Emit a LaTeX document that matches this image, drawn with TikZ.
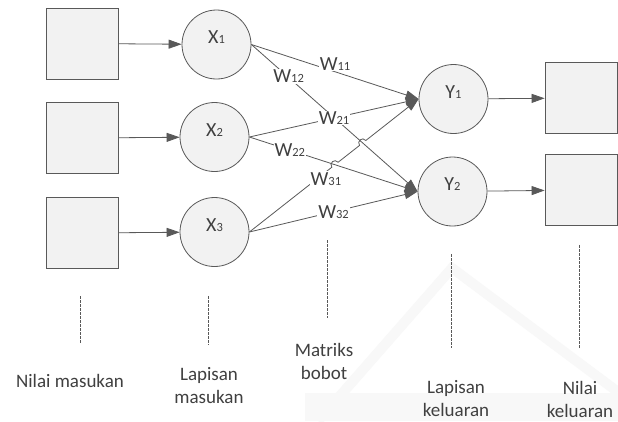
\documentclass[tikz,border=0pt]{standalone}
\usepackage{fontspec}
\setmainfont{Carlito}
\usetikzlibrary{arrows.meta,calc,intersections}
\definecolor{ln}{HTML}{595959}
\definecolor{fl}{HTML}{F2F2F2}
\definecolor{tx}{HTML}{404040}
\definecolor{wmc}{HTML}{F8F8F8}
\newcommand{\sbs}[1]{{\fontsize{12.5}{12.5}\selectfont #1}}
\begin{document}
\begin{tikzpicture}[x=1pt,y=-1pt,
  box/.style={draw=ln,fill=fl,line width=0.8pt,minimum width=72pt,minimum height=71pt,inner sep=0pt},
  neuron/.style={circle,draw=ln,fill=fl,line width=0.8pt,minimum size=69pt,inner sep=0pt},
  conn/.style={draw=ln,line width=0.8pt,-{Triangle[length=13pt,width=9pt]}},
  wl/.style={fill=white,inner sep=1pt,text=tx,font=\fontsize{20}{20}\selectfont},
  nl/.style={text=tx,font=\fontsize{20}{20}\selectfont,yshift=7pt},
  captxt/.style={text=tx,align=center,font=\fontsize{19}{23}\selectfont},
  dl/.style={draw=ln,line width=0.6pt,dash pattern=on 2.5pt off 1.5pt}]
\fill[white] (0,0) rectangle (618,421);
\useasboundingbox (0,0) rectangle (618,421);

% faint watermark in the background
\fill[wmc] (305,393) rectangle (618,421);
\draw[wmc,line width=10pt,line join=miter] (318,421) -- (452,268) -- (618,392);

% input values
\node[box] (i1) at (82,43.5) {};
\node[box] (i2) at (82,138) {};
\node[box] (i3) at (82,233) {};
% input layer
\node[neuron,label={[nl]center:X\sbs{1}}] (x1) at (216.5,44.5) {};
\node[neuron,label={[nl]center:X\sbs{2}}] (x2) at (214.5,137) {};
\node[neuron,label={[nl]center:X\sbs{3}}] (x3) at (214.5,232) {};
% output layer
\node[neuron,label={[nl]center:Y\sbs{1}}] (y1) at (453.5,99) {};
\node[neuron,label={[nl]center:Y\sbs{2}}] (y2) at (452.5,191.5) {};
% output values
\node[box] (o1) at (581,98) {};
\node[box] (o2) at (581,190) {};

\draw[conn] (i1) -- (x1);
\draw[conn] (i2) -- (x2);
\draw[conn] (i3) -- (x3);
\draw[conn] (y1) -- (o1);
\draw[conn] (y2) -- (o2);

% weights
\draw[conn] (x1.east) -- (y1.west);
\draw[conn,name path=p12] (x1.east) -- (y2.west);
\draw[conn] (x2.east) -- (y1.west);
\draw[conn,name path=p22] (x2.east) -- (y2.west);
\draw[conn] (x3.east) -- (y2.west);
\path[name path=p31] (x3.east) -- (y1.west);
\path[name intersections={of=p31 and p22, by=ha}];
\path[name intersections={of=p31 and p12, by=hb}];
\coordinate (ha1) at ($(ha)!4pt!(x3.east)$);
\coordinate (ha2) at ($(ha)!4pt!(y1.west)$);
\coordinate (hb1) at ($(hb)!4pt!(x3.east)$);
\coordinate (hb2) at ($(hb)!4pt!(y1.west)$);
\draw[conn] (x3.east) -- (ha1)
  .. controls ($(ha1)!5.3pt!90:(ha)$) and ($(ha2)!5.3pt!-90:(ha)$) .. (ha2)
  -- (hb1)
  .. controls ($(hb1)!5.3pt!90:(hb)$) and ($(hb2)!5.3pt!-90:(hb)$) .. (hb2)
  -- (y1.west);

% weight labels
\path (x1.east) -- node[wl,pos=0.5,yshift=8pt] (w11) {W\sbs{11}} (y1.west);
\path (x1.east) -- node[wl,pos=0.224,yshift=1pt] (w12) {W\sbs{12}} (y2.west);
\path (x2.east) -- node[wl,pos=0.5] (w21) {W\sbs{21}} (y1.west);
\path (x2.east) -- node[wl,pos=0.24] (w22) {W\sbs{22}} (y2.west);
\path (x3.east) -- node[wl,pos=0.452,yshift=-7pt] (w31) {W\sbs{31}} (y1.west);
\path (x3.east) -- node[wl,pos=0.5] (w32) {W\sbs{32}} (y2.west);

% dashed guides
\draw[dl] (80,296) -- (80,344);
\draw[dl] (208,296) -- (208,345);
\draw[dl] (327,240) -- (327,318);
\draw[dl] (451,254) -- (451,348);
\draw[dl] (579,245) -- (579,348);

% captions
\node[captxt] (c1) at (70,381) {Nilai masukan};
\node[captxt] (c2) at (209,386) {Lapisan\\masukan};
\node[captxt] (c3) at (324,361) {Matriks\\bobot};
\node[captxt] (c4) at (456,399) {Lapisan\\keluaran};
\node[captxt] (c5) at (580,399) {Nilai\\keluaran};
\end{tikzpicture}
\end{document}
